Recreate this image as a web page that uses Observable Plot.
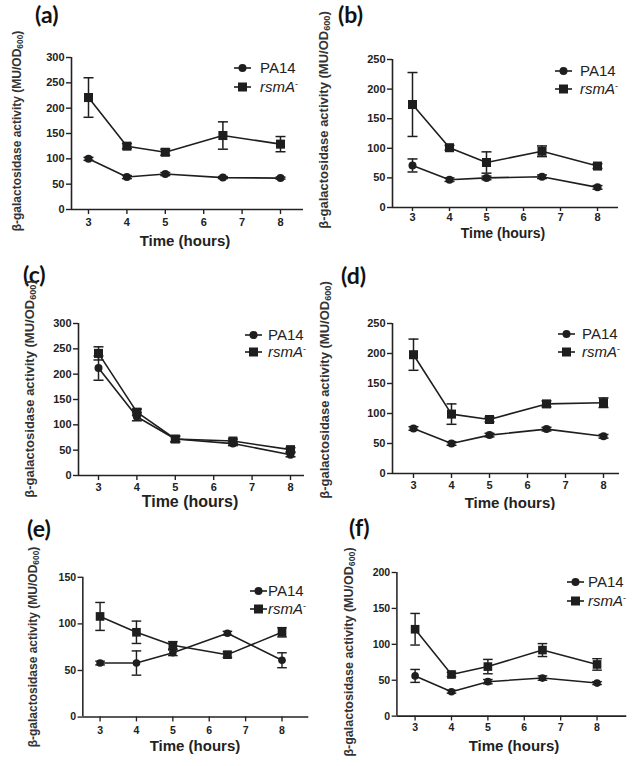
<!DOCTYPE html>
<html><head><meta charset="utf-8">
<script src="https://cdn.jsdelivr.net/npm/d3@7"></script>
<script src="https://cdn.jsdelivr.net/npm/@observablehq/plot@0.6"></script>
<style>
body{margin:0;background:#fff;}
#page{position:relative;width:632px;height:766px;overflow:hidden;font-family:"Liberation Sans",Arial,sans-serif;color:#222;}
.panel{position:absolute;overflow:hidden;}
.abs{position:absolute;white-space:nowrap;line-height:1;}
.lbl{font-family:Lato,"Liberation Sans",sans-serif;font-weight:bold;color:#111;line-height:1.3;}
.ytitle{font-weight:bold;color:#333;transform:translate(-50%,-50%) rotate(-90deg);}
.ytitle sub{font-size:0.7em;vertical-align:-0.25em;line-height:0;}
.xtitle{font-weight:bold;color:#222;transform:translate(-50%,-50%);}
.leg sup{font-size:0.6em;vertical-align:0.6em;line-height:0;font-style:normal;}
</style></head><body><div id="page"></div>
<script>
// ---- data ----
const hours = [3, 4, 5, 6.5, 8];
const xTicks = [3, 4, 5, 6, 7, 8];
const seriesNames = ["PA14", "rsmA"];
const panelLabels = ["(a)", "(b)", "(c)", "(d)", "(e)", "(f)"];
const xTitle = "Time (hours)";
const yTitleMain = "β-galactosidase activity (MU/OD";
const yTitleSub = "600";
const yMaxes = [300, 250, 300, 250, 150, 200];

const pa14A = [100, 64, 70, 63, 62];
const pa14AErr = [3, 3, 3, 2, 2];
const rsmaA = [221, 125, 113, 146, 129];
const rsmaAErr = [39, 5, 6, 27, 15];

const pa14B = [71, 47, 50, 52, 34];
const pa14BErr = [11, 3, 3, 3, 3];
const rsmaB = [174, 101, 76, 95, 70];
const rsmaBErr = [54, 4, 18, 9, 4];

const pa14C = [212, 116, 72, 63, 41];
const pa14CErr = [24, 8, 5, 4, 4];
const rsmaC = [241, 125, 72, 68, 51];
const rsmaCErr = [13, 6, 6, 4, 4];

const pa14D = [75, 50, 64, 74, 62];
const pa14DErr = [3, 3, 3, 3, 3];
const rsmaD = [198, 99, 90, 116, 118];
const rsmaDErr = [26, 17, 4, 5, 8];

const pa14E = [58, 58, 69, 90, 61];
const pa14EErr = [2, 13, 3, 2, 8];
const rsmaE = [108, 91, 77, 67, 91];
const rsmaEErr = [15, 12, 4, 3, 5];

const pa14F = [56, 34, 48, 53, 46];
const pa14FErr = [9, 2, 3, 3, 2];
const rsmaF = [121, 58, 69, 92, 72];
const rsmaFErr = [22, 3, 10, 9, 8];

const panelData = [
  [pa14A, pa14AErr, rsmaA, rsmaAErr],
  [pa14B, pa14BErr, rsmaB, rsmaBErr],
  [pa14C, pa14CErr, rsmaC, rsmaCErr],
  [pa14D, pa14DErr, rsmaD, rsmaDErr],
  [pa14E, pa14EErr, rsmaE, rsmaEErr],
  [pa14F, pa14FErr, rsmaF, rsmaFErr]
];

// ---- layout (page pixels) ----
const layout = [
  {left:0,   top:0,   w:316, h:250, svgW:316, ax:71,  x3:88,  x8:280, xEnd:303, yTop:57,  y0:209, xts:5, xtp:4,
   lab:[35,0], yt:[17,131,12], xt:[185,240,15], leg:[234,260,68,87,15]},
  {left:316, top:0,   w:316, h:250, svgW:316, ax:392, x3:412, x8:597, xEnd:618, yTop:59,  y0:207, xts:4, xtp:2,
   lab:[338,0], yt:[323,120,13], xt:[503,233,14], leg:[555,580,71,89,15]},
  {left:0,   top:250, w:316, h:260, svgW:316, ax:78,  x3:98,  x8:290, xEnd:304, yTop:323, y0:475, xts:5, xtp:3,
   lab:[23,263], yt:[29,389,13], xt:[190,502,16], leg:[245,268,335,352,15]},
  {left:316, top:250, w:316, h:260, svgW:316, ax:392, x3:413, x8:603, xEnd:619, yTop:323, y0:473, xts:5, xtp:3,
   lab:[341,264], yt:[324,390,13], xt:[510,502,15], leg:[558,582,334,352,15]},
  {left:0,   top:505, w:316, h:261, svgW:330, ax:86,  x3:104, x8:294, xEnd:322, yTop:580, y0:726, xts:5, xtp:5,
   lab:[27,517], yt:[33,647,12], xt:[195,745,15], leg:[250,268,591,609,15]},
  {left:316, top:505, w:316, h:261, svgW:330, ax:400, x3:419, x8:609, xEnd:640, yTop:575, y0:725, xts:5, xtp:3,
   lab:[349,516], yt:[349,652,12.5], xt:[514,745,15], leg:[567,588,582,601,15]}
];

const ink = "#1e1e1e";
const capSymbol = {draw(ctx) { ctx.moveTo(-5, 0); ctx.lineTo(5, 0); }};
const page = document.getElementById("page");

function rows(mean, err, name) {
  return hours.map((h, i) => ({x: h, y: mean[i], lo: mean[i] - err[i], hi: mean[i] + err[i], s: name}));
}

function legendRow(L, y, symbol, html, size) {
  const svgNS = "http://www.w3.org/2000/svg";
  const s = document.createElementNS(svgNS, "svg");
  s.setAttribute("width", 20); s.setAttribute("height", 14);
  s.style.position = "absolute";
  s.style.left = (L.leg[0] - L.left) + "px";
  s.style.top = (y - 7 - L.top) + "px";
  const ln = document.createElementNS(svgNS, "line");
  ln.setAttribute("x1", 0); ln.setAttribute("x2", 17); ln.setAttribute("y1", 7); ln.setAttribute("y2", 7);
  ln.setAttribute("stroke", ink); ln.setAttribute("stroke-width", 1.6);
  s.appendChild(ln);
  let m;
  if (symbol === "circle") {
    m = document.createElementNS(svgNS, "circle");
    m.setAttribute("cx", 8.5); m.setAttribute("cy", 7); m.setAttribute("r", 4);
  } else {
    m = document.createElementNS(svgNS, "rect");
    m.setAttribute("x", 4); m.setAttribute("y", 2.5); m.setAttribute("width", 9); m.setAttribute("height", 9);
  }
  m.setAttribute("fill", ink);
  s.appendChild(m);
  const t = document.createElement("div");
  t.className = "abs leg";
  t.style.left = (L.leg[1] - L.left) + "px";
  t.style.top = (y - L.top - size * 0.55) + "px";
  t.style.fontSize = size + "px";
  t.innerHTML = html;
  return [s, t];
}

layout.forEach((L, i) => {
  const [pm, pe, rm, re] = panelData[i];
  const pa = rows(pm, pe, seriesNames[0]);
  const rs = rows(rm, re, seriesNames[1]);
  const all = pa.concat(rs);
  const k = (L.x8 - L.x3) / 5;
  const d0 = 3 - (L.x3 - L.ax) / k;
  const d1 = 8 + (L.xEnd - L.x8) / k;
  const ymax = yMaxes[i];
  const yTicks = d3.range(0, ymax + 1, 50);

  const chart = Plot.plot({
    width: L.svgW, height: L.h,
    marginLeft: L.ax - L.left,
    marginRight: L.left + L.svgW - L.xEnd,
    marginTop: L.yTop - L.top,
    marginBottom: L.top + L.h - L.y0,
    x: {domain: [d0, d1]},
    y: {domain: [0, ymax]},
    style: {background: "transparent", color: "#222", fontFamily: "'Liberation Sans', Arial, sans-serif", fontWeight: "bold", fontSize: "11px", overflow: "visible"},
    marks: [
      Plot.ruleX([d0], {stroke: "#222", strokeWidth: 1.6}),
      Plot.ruleY([0], {stroke: "#222", strokeWidth: 1.6}),
      Plot.axisY({ticks: yTicks, tickSize: 5, tickPadding: 2, label: null, strokeWidth: 1.4, fontSize: 11}),
      Plot.axisX({ticks: xTicks, tickSize: L.xts, tickPadding: L.xtp, label: null, strokeWidth: 1.4, fontSize: 11, tickFormat: d3.format("d")}),
      Plot.line(pa, {x: "x", y: "y", stroke: ink, strokeWidth: 1.6}),
      Plot.line(rs, {x: "x", y: "y", stroke: ink, strokeWidth: 1.6}),
      Plot.ruleX(all, {x: "x", y1: "lo", y2: "hi", stroke: ink, strokeWidth: 1.5}),
      Plot.dot(all, {x: "x", y: "hi", symbol: capSymbol, fill: "none", stroke: ink, strokeWidth: 1.5}),
      Plot.dot(all, {x: "x", y: "lo", symbol: capSymbol, fill: "none", stroke: ink, strokeWidth: 1.5}),
      Plot.dot(pa, {x: "x", y: "y", symbol: "circle", r: 4, fill: ink, stroke: "none"}),
      Plot.dot(rs, {x: "x", y: "y", symbol: "square", r: 5.1, fill: ink, stroke: "none"})
    ]
  });

  const box = document.createElement("div");
  box.className = "panel";
  box.style.left = L.left + "px"; box.style.top = L.top + "px";
  box.style.width = L.w + "px"; box.style.height = L.h + "px";
  chart.style.position = "absolute"; chart.style.left = "0px"; chart.style.top = "0px";
  box.appendChild(chart);

  const lab = document.createElement("div");
  lab.className = "abs lbl";
  lab.style.left = (L.lab[0] - L.left) + "px";
  lab.style.top = Math.max(0, L.lab[1] - L.top - 3) + "px";
  lab.style.fontSize = "23px";
  lab.textContent = panelLabels[i];
  box.appendChild(lab);

  const yt = document.createElement("div");
  yt.className = "abs ytitle";
  yt.style.left = (L.yt[0] - L.left) + "px";
  yt.style.top = (L.yt[1] - L.top) + "px";
  yt.style.fontSize = L.yt[2] + "px";
  yt.innerHTML = yTitleMain + "<sub>" + yTitleSub + "</sub>)";
  box.appendChild(yt);

  const xt = document.createElement("div");
  xt.className = "abs xtitle";
  xt.style.left = (L.xt[0] - L.left) + "px";
  xt.style.top = (L.xt[1] - L.top) + "px";
  xt.style.fontSize = L.xt[2] + "px";
  xt.textContent = xTitle;
  box.appendChild(xt);

  legendRow(L, L.leg[2], "circle", seriesNames[0], L.leg[4]).forEach(e => box.appendChild(e));
  legendRow(L, L.leg[3], "square", "<i>" + seriesNames[1] + "</i><sup>-</sup>", L.leg[4]).forEach(e => box.appendChild(e));

  page.appendChild(box);
});
</script>
</body></html>
